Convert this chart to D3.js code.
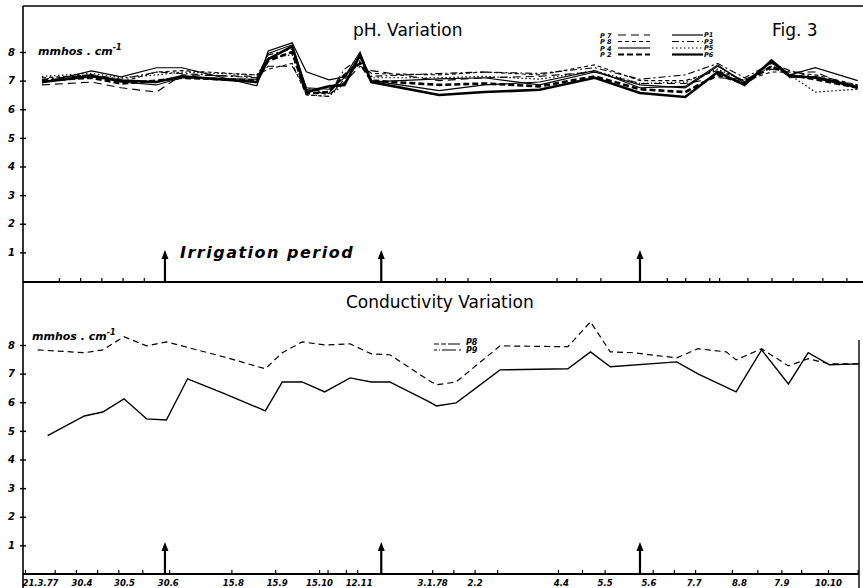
<!DOCTYPE html>
<html lang="en">
<head>
  <meta charset="utf-8" />
  <title>Fig. 3 - pH and Conductivity Variation</title>
  <script src="https://cdn.jsdelivr.net/npm/d3@7"></script>
  <style>
body{
  margin: 0;
  background: #ffffff;
}
svg{
  display: block;
}
.hand{
  font-family: 'DejaVu Sans', sans-serif;
  font-style: italic;
  font-weight: bold;
}
.title{
  font-family: 'DejaVu Sans', sans-serif;
}
  </style>
</head>
<body>
  <svg id="chart"></svg>
  <script>
  // sampling dates and readings
  const phDates = ['2.4.77','7.5.77','28.5.77','22.6.77','10.7.77','1.9.77','9.9.77','26.9.77','6.10.77','22.10.77','2.11.77','13.11.77','21.11.77',
                   '8.1.78','9.2.78','20.3.78','28.4.78','30.5.78','1.7.78','24.7.78','12.8.78','31.8.78','13.9.78','1.10.78','31.10.78'];
  const phP1 = [6.92,7.34,7.13,7.45,7.45,6.82,8.04,8.32,7.31,7.03,7.13,8.00,6.96,7.06,7.10,6.85,7.30,6.85,6.75,7.50,6.96,7.65,7.20,7.45,7.00];
  const phP2 = [7.00,7.10,6.90,7.00,7.10,7.00,7.70,8.00,6.55,6.60,7.20,7.60,7.00,6.85,6.90,6.80,7.15,6.70,6.60,7.20,6.90,7.50,7.20,7.05,6.75];
  const phP3 = [7.05,7.20,7.05,7.30,7.25,7.10,7.90,8.10,6.75,6.55,7.40,7.80,7.15,7.25,7.30,7.25,7.45,7.05,7.20,7.60,7.10,7.60,7.35,7.10,6.85];
  const phP4 = [6.95,7.20,6.95,6.85,7.10,7.05,7.95,8.25,6.75,6.70,7.10,7.85,7.00,6.65,6.85,6.95,7.35,6.75,6.80,7.55,6.90,7.65,7.10,7.15,6.80];
  const phP5 = [7.15,7.25,7.10,7.20,7.30,7.20,7.80,7.90,6.50,6.45,6.90,7.70,7.10,7.10,7.15,7.05,7.35,6.90,6.95,7.40,7.00,7.50,7.20,6.60,6.70];
  const phP6 = [6.95,7.15,7.00,6.95,7.15,6.95,7.75,8.20,6.60,6.80,6.85,7.90,6.95,6.50,6.60,6.68,7.10,6.57,6.43,7.30,6.85,7.70,7.17,7.10,6.78];
  const phP7 = [6.85,6.95,6.75,6.60,7.20,7.15,7.50,7.50,6.70,6.50,6.95,7.50,7.35,7.00,7.10,7.15,7.30,6.90,6.90,7.10,7.05,7.40,7.30,7.30,6.70];
  const phP8 = [7.10,7.20,6.95,7.30,7.35,7.20,7.40,7.60,6.50,6.45,7.05,7.65,7.25,7.20,7.30,7.20,7.55,7.00,7.00,7.35,7.00,7.30,7.30,7.20,6.85];

  const condDates = ['30.3.77','6.4.77','2.5.77','15.5.77','30.5.77','15.6.77','29.6.77','14.7.77','9.8.77','7.9.77','19.9.77','3.10.77','19.10.77',
                     '6.11.77','21.11.77','4.12.77','1.1.78','6.1.78','20.1.78','20.2.78','9.4.78','25.4.78','9.5.78','25.5.78','25.6.78','10.7.78',
                     '30.7.78','6.8.78','24.8.78','12.9.78','26.9.78','11.10.78','1.11.78'];
  const condP8 = [7.83,null,7.73,7.83,8.29,7.97,8.11,null,7.58,7.17,7.73,8.11,8.00,8.04,7.69,7.66,6.75,6.61,6.71,7.97,7.94,8.81,7.76,7.73,7.55,7.87,7.76,7.48,7.87,7.27,7.52,7.34,7.34];
  const condP9 = [null,4.83,5.52,5.66,6.12,5.42,5.38,6.82,6.30,5.70,6.71,6.71,6.36,6.85,6.71,6.71,6.01,5.87,5.98,7.13,7.17,7.76,7.24,null,7.41,6.99,null,6.36,7.83,6.64,7.73,7.31,7.34];

  const irrigationDates = ['28.6.77','28.11.77','30.5.78'];
  const yTicks = [1,2,3,4,5,6,7,8];
  const phTickDates = ['14.4.77','29.4.77','14.5.77','29.5.77','13.6.77','6.1.78','12.1.78','28.1.78','13.2.78','1.4.78','15.4.78','2.5.78',
                       '18.6.78','1.7.78','18.7.78','25.7.78','14.8.78','31.8.78','15.9.78','6.10.78','23.10.78'];
  const condTickDates = ['21.3.77','11.4.77','26.4.77','11.5.77','26.5.77','12.6.77','1.7.77','14.8.77','14.9.77','15.10.77','21.10.77','3.11.77','11.11.77',
                         '3.1.78','18.1.78','2.2.78','18.2.78','2.4.78','19.4.78','5.5.78','8.6.78','23.6.78','8.7.78','3.8.78','21.8.78','7.9.78',
                         '21.9.78','10.10.78','31.10.78'];
  const dateLabels = ['21.3.77','30.4','30.5','30.6','15.8','15.9','15.10','12.11','3.1.78','2.2','4.4','5.5','5.6','7.7','8.8','7.9','10.10'];
  const labelDates = ['21.3.77','30.4.77','30.5.77','30.6.77','15.8.77','15.9.77','15.10.77','12.11.77','3.1.78','2.2.78','4.4.78','5.5.78','5.6.78',
                      '7.7.78','8.8.78','7.9.78','10.10.78'];

  const parse = d3.timeParse('%d.%m.%y');

  var width = 863, height = 588;
  var svg = d3.select('#chart').attr('width', width).attr('height', height);

  var x = d3.scaleTime()
      .domain([parse('21.3.77'), parse('10.10.78')])
      .range([25, 828]);
  var yPh = d3.scaleLinear().domain([0, 8]).range([281, 52]);
  var yCond = d3.scaleLinear().domain([0, 8]).range([574, 345]);

  var axisX = 23, rightX = 859;

  // frame
  var frame = svg.append('g').attr('stroke', '#000').attr('fill', 'none');
  frame.append('line').attr('x1', axisX).attr('x2', axisX).attr('y1', 6).attr('y2', height).attr('stroke-width', 1.6);
  frame.append('line').attr('x1', axisX).attr('x2', width).attr('y1', 6).attr('y2', 6).attr('stroke-width', 1.4);
  frame.append('line').attr('x1', axisX).attr('x2', width).attr('y1', yPh(0) + 1).attr('y2', yPh(0) + 1).attr('stroke-width', 1.8);
  frame.append('line').attr('x1', axisX).attr('x2', rightX).attr('y1', yCond(0)).attr('y2', yCond(0)).attr('stroke-width', 1.8);
  frame.append('line').attr('x1', rightX).attr('x2', rightX).attr('y1', 340).attr('y2', height).attr('stroke-width', 1.4);

  function drawYAxis(scale){
    var g = svg.append('g')
        .attr('transform', `translate(${axisX},0)`)
        .call(d3.axisLeft(scale).tickValues(yTicks).tickSize(0).tickPadding(8).tickFormat(d3.format('d')));
    g.select('.domain').remove();
    g.selectAll('.tick line').attr('x1', -3).attr('x2', 3).attr('stroke-width', 1.4);
    g.selectAll('.tick text')
        .attr('class', 'hand')
        .attr('font-size', 10)
        .attr('fill', '#000');
  }

  function drawXTicks(y0, dates){
    var g = svg.append('g')
        .attr('transform', `translate(0,${y0})`)
        .call(d3.axisBottom(x).tickValues(dates.map(parse)).tickSizeInner(-4).tickSizeOuter(0).tickFormat(''));
    g.select('.domain').remove();
    g.selectAll('.tick line').attr('stroke-width', 1.2);
  }

  function drawArrows(y0){
    var a = svg.append('g').selectAll('g')
      .data(irrigationDates)
      .enter().append('g')
        .attr('transform', d => `translate(${x(parse(d))},${y0})`);
    a.append('line')
        .attr('y1', 0).attr('y2', -24)
        .attr('stroke', '#000')
        .attr('stroke-width', 2.2);
    a.append('path')
        .attr('d', 'M-3.5,-23 L0,-32 L3.5,-23 Z')
        .attr('fill', '#000');
  }

  drawYAxis(yPh);
  drawYAxis(yCond);
  drawXTicks(yPh(0) + 1, phTickDates);
  drawXTicks(yCond(0), condTickDates);
  drawArrows(yPh(0) + 1);
  drawArrows(yCond(0));

  // date labels under the lower panel
  var lab = svg.append('g')
      .attr('transform', `translate(0,${yCond(0)})`)
      .call(d3.axisBottom(x).tickValues(labelDates.map(parse)).tickSize(0).tickPadding(6)
        .tickFormat((d, i) => dateLabels[i]));
  lab.select('.domain').remove();
  lab.selectAll('.tick text')
      .attr('class', 'hand')
      .attr('font-size', 8.5)
      .attr('fill', '#000');
  lab.select('.tick text').attr('text-anchor', 'start').attr('x', -3);

  // pH series
  var phSeries = [
    {name: 'P1', values: phP1, width: 1.2, dash: null},
    {name: 'P2', values: phP2, width: 2.6, dash: '6,3'},
    {name: 'P3', values: phP3, width: 1.1, dash: '7,3,2,3'},
    {name: 'P4', values: phP4, width: 1.1, dash: null},
    {name: 'P5', values: phP5, width: 1.2, dash: '1.5,2.5'},
    {name: 'P6', values: phP6, width: 2.6, dash: null},
    {name: 'P7', values: phP7, width: 1.1, dash: '8,5'},
    {name: 'P8', values: phP8, width: 1.1, dash: '4,3'}
  ];

  var phLine = d3.line()
      .x(d => x(d.date))
      .y(d => yPh(d.value));

  svg.append('g')
      .attr('fill', 'none')
      .attr('stroke', '#000')
    .selectAll('path')
    .data(phSeries)
    .enter().append('path')
      .attr('d', s => phLine(phDates.map((t, i) => ({date: parse(t), value: s.values[i]}))))
      .attr('stroke-width', s => s.width)
      .attr('stroke-dasharray', s => s.dash)
      .attr('stroke-linejoin', 'miter');

  // conductivity series
  var condSeries = [
    {name: 'P8', values: condP8, width: 1.2, dash: '6,4'},
    {name: 'P9', values: condP9, width: 1.4, dash: null}
  ];

  var condLine = d3.line()
      .x(d => x(d.date))
      .y(d => yCond(d.value));

  svg.append('g')
      .attr('fill', 'none')
      .attr('stroke', '#000')
    .selectAll('path')
    .data(condSeries)
    .enter().append('path')
      .attr('d', s => condLine(condDates.map((t, i) => ({date: parse(t), value: s.values[i]})).filter(d => d.value != null)))
      .attr('stroke-width', s => s.width)
      .attr('stroke-dasharray', s => s.dash);

  // titles
  svg.append('text').attr('class', 'title').attr('x', 353).attr('y', 36).attr('font-size', 17).text('pH. Variation');
  svg.append('text').attr('class', 'title').attr('x', 772).attr('y', 36).attr('font-size', 17).text('Fig. 3');
  svg.append('text').attr('class', 'title').attr('x', 346).attr('y', 308).attr('font-size', 17).text('Conductivity Variation');

  function unitLabel(x0, y0){
    var t = svg.append('text').attr('class', 'hand').attr('x', x0).attr('y', y0).attr('font-size', 11);
    t.append('tspan').text('mmhos . cm');
    t.append('tspan').attr('dy', -5).attr('font-size', 8).text('-1');
  }
  unitLabel(38, 55);
  unitLabel(32, 340);

  svg.append('text')
      .attr('class', 'hand')
      .attr('x', 180).attr('y', 258)
      .attr('font-size', 16)
      .attr('font-weight', 'normal')
      .attr('letter-spacing', 1.5)
      .text('Irrigation period');

  // pH legend
  var legLeft = [phSeries[6], phSeries[7], phSeries[3], phSeries[1]];
  var legRight = [phSeries[0], phSeries[2], phSeries[4], phSeries[5]];
  var leg = svg.append('g').attr('stroke', '#000');
  legLeft.forEach((s, i) => {
    var yy = 35 + i * 6.5;
    leg.append('line').attr('x1', 618).attr('x2', 650).attr('y1', yy).attr('y2', yy)
        .attr('stroke-width', Math.min(s.width, 2.2)).attr('stroke-dasharray', s.dash);
    leg.append('text').attr('class', 'hand').attr('stroke', 'none').attr('x', 600).attr('y', yy + 2.5)
        .attr('font-size', 6.5).text('P ' + s.name.slice(1));
  });
  legRight.forEach((s, i) => {
    var yy = 35 + i * 6.5;
    leg.append('line').attr('x1', 672).attr('x2', 703).attr('y1', yy).attr('y2', yy)
        .attr('stroke-width', Math.min(s.width, 2.2)).attr('stroke-dasharray', s.dash);
    leg.append('text').attr('class', 'hand').attr('stroke', 'none').attr('x', 704).attr('y', yy + 2)
        .attr('font-size', 6.5).text(s.name);
  });

  // conductivity legend
  var leg2 = svg.append('g').attr('stroke', '#000');
  leg2.append('line').attr('x1', 434).attr('x2', 462).attr('y1', 344).attr('y2', 344)
      .attr('stroke-width', 1.1).attr('stroke-dasharray', '5,2,5,2,12');
  leg2.append('line').attr('x1', 434).attr('x2', 462).attr('y1', 350).attr('y2', 350)
      .attr('stroke-width', 1.1).attr('stroke-dasharray', '3,2,1,2,14');
  condSeries.forEach((s, i) => {
    leg2.append('text').attr('class', 'hand').attr('stroke', 'none').attr('x', 466).attr('y', 345 + i * 7.5)
        .attr('font-size', 8).text(s.name);
  });
  </script>
</body>
</html>
